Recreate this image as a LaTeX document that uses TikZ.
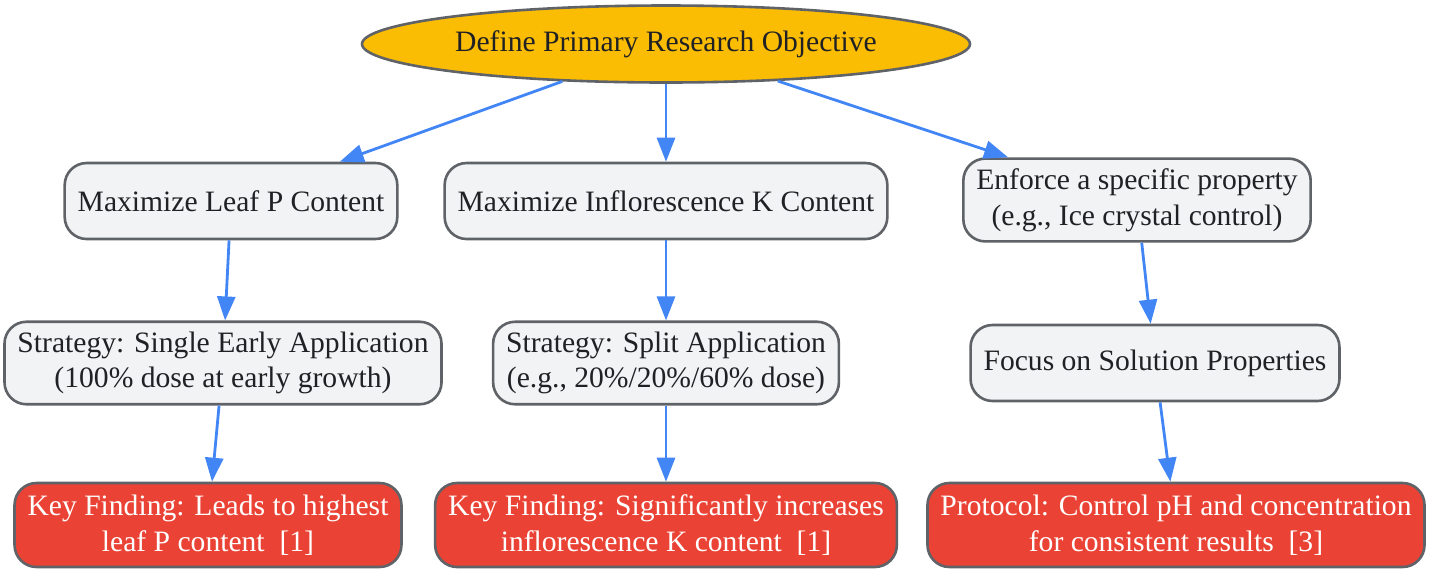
\documentclass[tikz,border=0pt]{standalone}
\usepackage{fontspec}
\setmainfont{Liberation Serif}
\usepackage{xcolor}
\usetikzlibrary{shapes.geometric,arrows.meta}
\definecolor{goalyellow}{HTML}{FBBC04}
\definecolor{boxgray}{HTML}{F1F3F4}
\definecolor{edgegray}{HTML}{5F6368}
\definecolor{findred}{HTML}{EA4335}
\definecolor{linkblue}{HTML}{4285F4}
\definecolor{inkdark}{HTML}{202124}
\tikzset{
  goal/.style={ellipse,draw=edgegray,line width=1.3pt,fill=goalyellow,text=inkdark,
    minimum width=304pt,minimum height=38.5pt,inner sep=0pt},
  stepbox/.style={rectangle,rounded corners=11pt,draw=edgegray,line width=1.3pt,
    fill=boxgray,text=inkdark,align=center,inner xsep=6.5pt,inner ysep=5pt,minimum height=38pt},
  findbox/.style={stepbox,fill=findred,text=white,minimum height=42pt},
  link/.style={-{Triangle[length=12pt,width=9pt]},linkblue,line width=1.4pt}
}
\begin{document}
\begin{tikzpicture}[x=0.5pt,y=-0.5pt,font=\fontsize{14.8}{17.8}\selectfont]
\useasboundingbox (0,0) rectangle (1434,569);
% Objective
\node[goal] (obj) at (666,44) {Define Primary Research Objective};
% Goals
\node[stepbox] (leafp) at (231,201) {Maximize Leaf P Content};
\node[stepbox] (inflk) at (666,201) {Maximize Inflorescence K Content};
\node[stepbox] (prop) at (1137,200) {Enforce a specific property\\(e.g., Ice crystal control)};
% Strategies
\node[stepbox] (single) at (223,363) {Strategy: Single Early Application\\(100\% dose at early growth)};
\node[stepbox] (split) at (666,363) {Strategy: Split Application\\(e.g., 20\%/20\%/60\% dose)};
\node[stepbox] (solprop) at (1155,363) {Focus on Solution Properties};
% Findings
\node[findbox] (findp) at (208,525) {Key Finding: Leads to highest\\leaf P content\ \ [1]};
\node[findbox] (findk) at (666,525) {Key Finding: Significantly increases\\inflorescence K content\ \ [1]};
\node[findbox] (proto) at (1176,525) {Protocol: Control pH and concentration\\for consistent results\ \ [3]};
% Links
\draw[link] (obj) -- (leafp);
\draw[link] (obj) -- (inflk);
\draw[link] (obj) -- (prop);
\draw[link] (leafp) -- (single);
\draw[link] (single) -- (findp);
\draw[link] (inflk) -- (split);
\draw[link] (split) -- (findk);
\draw[link] (prop) -- (solprop);
\draw[link] (solprop) -- (proto);
\end{tikzpicture}
\end{document}
